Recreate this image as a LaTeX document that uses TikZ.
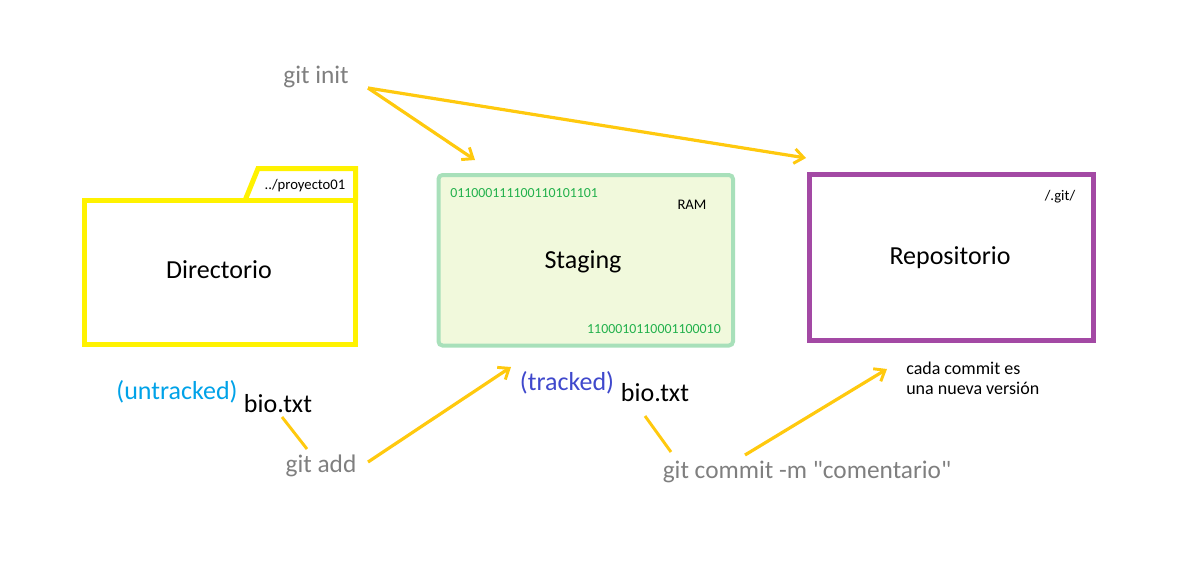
\documentclass[tikz,border=0pt]{standalone}
\usepackage{fontspec}
\setmainfont{Carlito}
\newfontfamily\plainfont[Ligatures=TeXOff]{Carlito}
\usetikzlibrary{arrows.meta}
\definecolor{pyellow}{RGB}{255,242,0}
\definecolor{pgold}{RGB}{255,201,14}
\definecolor{ppurple}{RGB}{163,73,164}
\definecolor{pgreen}{RGB}{168,224,186}
\definecolor{pfill}{RGB}{241,249,220}
\definecolor{bingreen}{RGB}{34,177,76}
\definecolor{cmdgray}{RGB}{127,127,127}
\definecolor{untr}{RGB}{0,162,232}
\definecolor{tr}{RGB}{63,72,204}
\begin{document}
\begin{tikzpicture}[x=0.75pt,y=-0.75pt,
  cmd/.style={text=cmdgray,inner sep=0pt,font=\fontsize{19}{22}\selectfont},
  big/.style={inner sep=0pt,font=\fontsize{19.5}{23}\selectfont},
  small/.style={inner sep=0pt,font=\fontsize{11}{13}\selectfont},
  note/.style={inner sep=0pt,font=\fontsize{13.5}{15}\selectfont},
  bin/.style={text=bingreen,inner sep=0pt,font=\fontsize{10.4}{12}\selectfont},
  flow/.style={draw=pgold,line width=2.4pt,-{Straight Barb[length=7pt,width=11pt,line width=2.2pt]}},
  tie/.style={draw=pgold,line width=2.2pt}]
\useasboundingbox (0,0) rectangle (1187,565);
% Directorio folder
\draw[pyellow,line width=3.75pt,line join=miter] (245,200.5) -- (258,168.5) -- (355.5,168.5) -- (355.5,200.5);
\draw[pyellow,line width=3.75pt] (84.5,200.5) rectangle (355.5,344.5);
\node[small] (proy) at (305,186) {../proyecto01};
\node[big] (dir) at (219,270) {Directorio};
% Staging
\draw[pgreen,fill=pfill,line width=3pt,rounded corners=3pt] (438.5,175) rectangle (733,345.5);
\node[big] (stg) at (583,262) {Staging};
\node[bin,anchor=west] (bin1) at (450,193) {011000111100110101101};
\node[bin,anchor=east] (bin2) at (721,329) {1100010110001100010};
\node[small] (ram) at (692,205) {RAM};
% Repositorio
\draw[ppurple,line width=3.75pt] (809.5,174.5) rectangle (1093.5,340);
\node[big] (repo) at (950,258) {Repositorio};
\node[small] (git) at (1060,197) {/.git/};
% labels
\node[cmd] (init) at (316,77) {git init};
\node[big,text=untr] (untr) at (177,392) {(untracked)};
\node[big] (bio1) at (278,404) {bio.txt};
\node[cmd] (add) at (321,466) {git add};
\node[big,text=tr] (trk) at (567,383) {(tracked)};
\node[big] (bio2) at (655,393) {bio.txt};
\node[cmd] (commit) at (807,472) {\plainfont git commit -m "comentario"};
\node[note,align=left,anchor=north west] (nota) at (906,362) {cada commit es\\una nueva versión};
% connectors
\coordinate (i0) at (368,88);
\coordinate (i1) at (475,160);
\coordinate (i2) at (806,158);
\draw[flow] (i0) -- (i1);
\draw[flow] (i0) -- (i2);
\coordinate (a0) at (368,462);
\coordinate (a1) at (511,367);
\draw[flow] (a0) -- (a1);
\coordinate (c0) at (745,455);
\coordinate (c1) at (887,369);
\draw[flow] (c0) -- (c1);
\coordinate (t1a) at (282,417);
\coordinate (t1b) at (307,449);
\draw[tie] (t1a) -- (t1b);
\coordinate (t2a) at (645,416);
\coordinate (t2b) at (671,452);
\draw[tie] (t2a) -- (t2b);
\end{tikzpicture}
\end{document}
